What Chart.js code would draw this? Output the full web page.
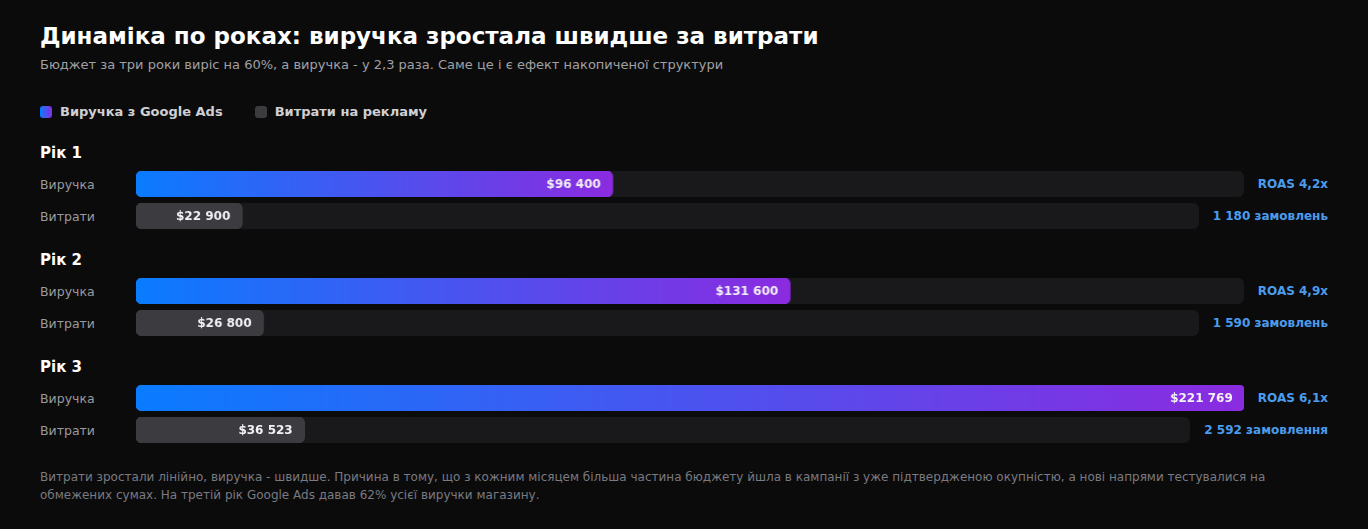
<!DOCTYPE html>
<html lang="uk">
<head>
<meta charset="utf-8">
<script src="https://cdn.jsdelivr.net/npm/chart.js@4.4.1/dist/chart.umd.min.js"></script>
<style>
    body { margin: 0; background: #0b0b0c; font-family: "DejaVu Sans", sans-serif; color: #fff; }
    .wrap { padding: 22px 40px 0 40px; }
    h1 { margin: 0; font-size: 23px; line-height: 28px; font-weight: bold; color: #fff; }
    .sub { margin-top: 6px; font-size: 13px; line-height: 18px; color: #a0a0a4; }
    .legend { margin-top: 29px; display: flex; font-size: 13px; line-height: 18px; font-weight: bold; color: #d0d0d4; }
    .legend span { display: flex; align-items: center; margin-right: 32px; }
    .legend i { display: inline-block; width: 12px; height: 12px; border-radius: 3px; margin-right: 8px; }
    .year { font-size: 15px; line-height: 20px; font-weight: bold; color: #fff; }
    .year.first { margin-top: 22px; }
    .year.next { margin-top: 21px; }
    .rows { margin-top: 8px; }
    .row { display: flex; align-items: center; height: 26px; margin-bottom: 6px; }
    .row:last-child { margin-bottom: 0; }
    .row .lbl { width: 96px; font-size: 12.5px; color: #9a9a9e; }
    .row .track { flex: 1; position: relative; height: 26px; background: #19191b; border-radius: 6px; }
    .row .right { margin-left: 14px; font-size: 12px; font-weight: bold; color: #4c9cec; white-space: nowrap; }
    .note { margin-top: 25px; font-size: 12px; line-height: 18px; color: #7a7a80; }
</style>
</head>
<body>
<div class="wrap">
    <h1>Динаміка по роках: виручка зростала швидше за витрати</h1>
    <div class="sub">Бюджет за три роки виріс на 60%, а виручка - у 2,3 раза. Саме це і є ефект накопиченої структури</div>
    <div class="legend">
        <span><i style="background: linear-gradient(90deg, #0a7cff, #8a2be2);"></i>Виручка з Google Ads</span>
        <span><i style="background: #3b3b40;"></i>Витрати на рекламу</span>
    </div>
    <div id="years"></div>
    <div class="note">Витрати зростали лінійно, виручка - швидше. Причина в тому, що з кожним місяцем більша частина бюджету йшла в кампанії з уже підтвердженою окупністю, а нові напрями тестувалися на обмежених сумах. На третій рік Google Ads давав 62% усієї виручки магазину.</div>
</div>

<script>
    const years = ['Рік 1', 'Рік 2', 'Рік 3'];
    const revenue = [96400, 131600, 221769];
    const spend = [22900, 26800, 36523];
    const roas = ['ROAS 4,2x', 'ROAS 4,9x', 'ROAS 6,1x'];
    const orders = ['1 180 замовлень', '1 590 замовлень', '2 592 замовлення'];

    const maxValue = Math.max(...revenue);

    function fmt(v) {
        return '$' + v.toString().replace(/\B(?=(\d{3})+(?!\d))/g, ' ');
    }

    // texte dans la barre
    const valueLabel = {
        id: 'valueLabel',
        afterDatasetsDraw(chart) {
            const ctx = chart.ctx;
            const bar = chart.getDatasetMeta(0).data[0];
            ctx.save();
            ctx.font = 'bold 12px "DejaVu Sans"';
            ctx.fillStyle = '#f2f2f4';
            ctx.textAlign = 'right';
            ctx.textBaseline = 'middle';
            ctx.fillText(chart.options.plugins.valueLabel.text, bar.x - 12, bar.y + 1);
            ctx.restore();
        }
    };

    function makeRow(parent, label, value, rightText, isRevenue) {
        let row = document.createElement('div');
        row.className = 'row';
        row.innerHTML = '<div class="lbl">' + label + '</div><div class="track"><canvas></canvas></div><div class="right">' + rightText + '</div>';
        parent.appendChild(row);

        let pct = Math.round(value / maxValue * 100);

        let config = {
            type: 'bar',
            data: {
                labels: [label],
                datasets: [{
                    data: [pct],
                    backgroundColor: (c) => {
                        if (!isRevenue) return '#3b3b40';
                        let chart = c.chart;
                        if (!chart.chartArea) return '#0a7cff';
                        let x0 = chart.scales.x.getPixelForValue(0);
                        let x1 = chart.scales.x.getPixelForValue(pct);
                        let g = chart.ctx.createLinearGradient(x0, 0, x1, 0);
                        g.addColorStop(0, '#0a7cff');
                        g.addColorStop(1, '#8b2be0');
                        return g;
                    },
                    borderRadius: 6,
                    borderSkipped: false,
                    barPercentage: 1,
                    categoryPercentage: 1
                }]
            },
            options: {
                indexAxis: 'y',
                responsive: true,
                maintainAspectRatio: false,
                animation: false,
                layout: { padding: 0 },
                plugins: {
                    legend: { display: false },
                    tooltip: { enabled: false },
                    valueLabel: { text: fmt(value) }
                },
                scales: {
                    x: { display: false, min: 0, max: 100 },
                    y: { display: false }
                }
            },
            plugins: [valueLabel]
        };
        new Chart(row.querySelector('canvas'), config);
    }

    let container = document.getElementById('years');
    for (let i = 0; i < years.length; i++) {
        let h = document.createElement('div');
        h.className = 'year ' + (i === 0 ? 'first' : 'next');
        h.textContent = years[i];
        container.appendChild(h);

        let rows = document.createElement('div');
        rows.className = 'rows';
        container.appendChild(rows);

        makeRow(rows, 'Виручка', revenue[i], roas[i], true);
        makeRow(rows, 'Витрати', spend[i], orders[i], false);
    }
</script>
</body>
</html>
